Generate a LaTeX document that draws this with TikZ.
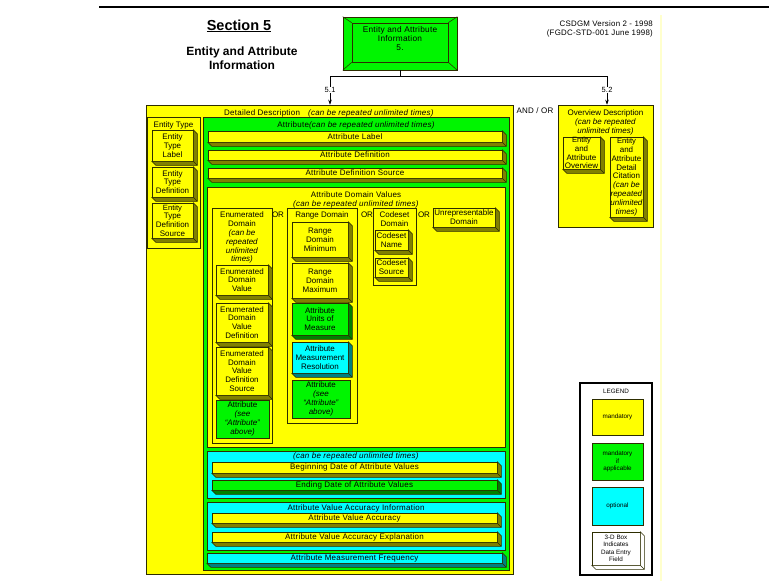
\documentclass[tikz,border=0pt]{standalone}
\usepackage{fontspec}
\setmainfont{Liberation Sans}
\newfontfamily\spacedfont[LetterSpace=3]{Liberation Sans}
\usetikzlibrary{arrows.meta}

\definecolor{ylw}{RGB}{255,255,0}
\definecolor{grn}{RGB}{0,245,0}
\definecolor{cyn}{RGB}{0,255,255}
\definecolor{ylwdk}{RGB}{128,128,0}
\definecolor{grndk}{RGB}{0,128,0}
\definecolor{cyndk}{RGB}{0,128,128}
\definecolor{edgec}{RGB}{45,45,0}
\definecolor{paleline}{RGB}{255,255,205}

\newcommand\boxfont{\fontsize{8}{8.8}\selectfont}
\newcommand\widefont{\spacedfont\fontsize{8}{8.8}\selectfont}
\newcommand\tightfont{\fontsize{7.6}{8}\selectfont}
\newcommand\smallfont{\fontsize{6.3}{7.4}\selectfont}

% flat box from corner (x1,y1) to (x2,y2): name, style, x1, y1, x2, y2, text
\newcommand\flatbox[7]{%
  \pgfmathsetmacro\bxw{#5-#3}%
  \pgfmathsetmacro\bxh{#6-#4}%
  \pgfmathsetmacro\bxx{(#3+#5)/2}%
  \pgfmathsetmacro\bxy{(#4+#6)/2}%
  \node[boxsty,#2,minimum width=\bxw pt,minimum height=\bxh pt] (#1) at (\bxx,\bxy) {#7};}

% extruded right and bottom faces of a box node: name, side colour
\newcommand\extrude[2]{%
  \filldraw[edgeline,fill=#2] (#1.north east) -- ++(4,4)
    -- ([shift={(4,4)}]#1.south east) -- ([shift={(4,4)}]#1.south west)
    -- (#1.south west) -- (#1.south east) -- cycle;
  \draw[edgeline] (#1.south east) -- ++(4,4);}

% 3-D data entry box: name, fill, side colour, x1, y1, x2, y2, text
\newcommand\solidbox[8]{%
  \flatbox{#1}{fill=#2}{#4}{#5}{#6}{#7}{#8}%
  \extrude{#1}{#3}}

\begin{document}
\begin{tikzpicture}[x=1pt,y=-1pt,
  boxsty/.style={draw=edgec,line width=0.55pt,inner sep=0pt,align=center,font=\boxfont},
  edgeline/.style={draw=edgec,line width=0.55pt},
  heading/.style={inner sep=0pt,align=center,font=\boxfont},
  wideheading/.style={inner sep=0pt,align=center,font=\widefont},
  tip/.style={-{Stealth[length=5pt,width=3.5pt]},line width=0.6pt},
  wire/.style={line width=0.6pt}]

\useasboundingbox (0,0) rectangle (769,581);
\fill[white] (0,0) rectangle (769,581);

% page rule and margin
\coordinate (ruleL) at (99,6.5);
\coordinate (ruleR) at (769,6.5);
\draw[line width=2pt] (ruleL) -- (ruleR);
\coordinate (marginT) at (661,15);
\coordinate (marginB) at (661,581);
\draw[paleline,line width=2pt] (marginT) -- (marginB);

% titles
\node[inner sep=0pt,anchor=base,font=\fontsize{14.5}{16}\selectfont\bfseries] (sec) at (239,30) {\underline{Section 5}};
\node[inner sep=0pt,anchor=north,align=center,font=\fontsize{12}{14}\selectfont\bfseries] (sectitle) at (242,47) {Entity and Attribute\\Information};
\node[inner sep=0pt,anchor=north east,align=right,font=\spacedfont\fontsize{7.9}{9}\selectfont] (version) at (653,21) {CSDGM Version 2 - 1998\\(FGDC-STD-001 June 1998)};

% section box with bevelled frame
\flatbox{top}{fill=grn}{343}{17}{457}{70}{}
\flatbox{topin}{fill=grn}{352}{23}{448}{62}{}
\draw[edgeline] (top.north west) -- (topin.north west);
\draw[edgeline] (top.north east) -- (topin.north east);
\draw[edgeline] (top.south west) -- (topin.south west);
\draw[edgeline] (top.south east) -- (topin.south east);
\node[heading,font=\spacedfont\fontsize{8.3}{9}\selectfont] (toptext) at (400,39) {Entity and Attribute\\Information\\5.};

% Detailed Description
\flatbox{dd}{fill=ylw}{146}{105}{513}{574}{}
\node[wideheading,anchor=base] (ddt) at (329,115) {Detailed Description\quad\textit{(can be repeated unlimited times)}};

% Entity Type
\flatbox{et}{fill=ylw}{147}{117}{200}{248}{}
\node[heading,anchor=base] (ett) at (173.5,127) {Entity Type};
\solidbox{etl}{ylw}{ylwdk}{152}{130}{193}{161}{Entity\\Type\\Label}
\solidbox{etd}{ylw}{ylwdk}{152}{167}{193}{197}{Entity\\Type\\Definition}
\solidbox{ets}{ylw}{ylwdk}{152}{203}{193}{238}{\tightfont Entity\\Type\\Definition\\Source}

% Attribute
\flatbox{attr}{fill=grn}{203}{117}{509}{570}{}
\node[wideheading,anchor=base] (attrt) at (356,127) {Attribute\textit{(can be repeated unlimited times)}};
\solidbox{al}{ylw}{ylwdk}{208}{131}{502}{142}{\widefont Attribute Label}
\solidbox{ad}{ylw}{ylwdk}{208}{150}{502}{160}{\widefont Attribute Definition}
\solidbox{ads}{ylw}{ylwdk}{208}{168}{502}{178}{\widefont Attribute Definition Source}

% Attribute Domain Values
\flatbox{adv}{fill=ylw}{207}{187}{505}{447}{}
\node[wideheading,anchor=north] (advt) at (356,191.5) {Attribute Domain Values\\\textit{(can be repeated unlimited times)}};

% Enumerated Domain
\flatbox{en}{fill=ylw}{212}{208}{272}{443}{}
\node[heading,anchor=north] (ent) at (242,212) {Enumerated\\Domain\\\textit{(can be}\\\textit{repeated}\\\textit{unlimited}\\\textit{times)}};
\solidbox{edv}{ylw}{ylwdk}{216}{265}{268}{295}{Enumerated\\Domain\\Value}
\solidbox{edvd}{ylw}{ylwdk}{216}{303}{268}{342}{Enumerated\\Domain\\Value\\Definition}
\solidbox{edvs}{ylw}{ylwdk}{216}{347}{268}{395}{Enumerated\\Domain\\Value\\Definition\\Source}
\flatbox{ena}{fill=grn}{216}{400}{269}{438}{Attribute\\\textit{(see}\\\textit{``Attribute''}\\\textit{above)}}

\node[heading,anchor=base] (or1) at (278,217) {OR};

% Range Domain
\flatbox{rd}{fill=ylw}{287}{208}{357}{423}{}
\node[heading,anchor=base] (rdt) at (322,217.5) {Range Domain};
\solidbox{rmin}{ylw}{ylwdk}{292}{222}{348}{257}{Range\\Domain\\Minimum}
\solidbox{rmax}{ylw}{ylwdk}{292}{263}{348}{298}{Range\\Domain\\Maximum}
\solidbox{rum}{grn}{grndk}{292}{303}{348}{335}{Attribute\\Units of\\Measure}
\solidbox{rmr}{cyn}{cyndk}{292}{342}{348}{373}{Attribute\\Measurement\\Resolution}
\flatbox{rat}{fill=grn}{292}{380}{350}{418}{Attribute\\\textit{(see}\\\textit{``Attribute''}\\\textit{above)}}

\node[heading,anchor=base] (or2) at (367,217) {OR};

% Codeset Domain
\flatbox{cd}{fill=ylw}{373}{208}{416}{285}{}
\node[heading,anchor=north] (cdt) at (394.5,211.5) {Codeset\\Domain};
\solidbox{cn}{ylw}{ylwdk}{375}{230}{408}{250}{Codeset\\Name}
\solidbox{cs}{ylw}{ylwdk}{375}{258}{408}{277}{Codeset\\Source}

\node[heading,anchor=base] (or3) at (424,217) {OR};

\solidbox{ud}{ylw}{ylwdk}{433}{208}{495}{227}{Unrepresentable\\Domain}

% date range group
\flatbox{c1}{fill=cyn}{207}{451}{505}{498}{}
\node[wideheading,anchor=base] (c1t) at (356,458) {\textit{(can be repeated unlimited times)}};
\solidbox{bd}{ylw}{ylwdk}{212}{462}{497}{473}{\widefont Beginning Date of Attribute Values}
\solidbox{edd}{grn}{grndk}{212}{480}{497}{490}{\widefont Ending Date of Attribute Values}

% accuracy group
\flatbox{c2}{fill=cyn}{207}{502}{505}{550}{}
\node[wideheading,anchor=base] (c2t) at (356,510) {Attribute Value Accuracy Information};
\solidbox{ava}{ylw}{ylwdk}{212}{513}{497}{523}{\widefont Attribute Value Accuracy}
\solidbox{avae}{ylw}{ylwdk}{212}{532}{497}{542}{\widefont Attribute Value Accuracy Explanation}

\solidbox{amf}{cyn}{cyndk}{207}{553}{502}{563}{\widefont Attribute Measurement Frequency}

% Overview Description
\node[wideheading,anchor=base] (andor) at (535,113) {AND / OR};
\flatbox{ov}{fill=ylw}{558}{105}{653}{227}{}
\node[heading,anchor=north] (ovt) at (605.5,110) {Overview Description\\\textit{(can be repeated}\\\textit{unlimited times)}};
\solidbox{eao}{ylw}{ylwdk}{563}{137}{600}{169}{\tightfont Entity\\and\\Attribute\\Overview}
\solidbox{eadc}{ylw}{ylwdk}{610}{137}{643}{217}{\tightfont Entity\\and\\Attribute\\Detail\\Citation\\\textit{(can be}\\\textit{repeated}\\\textit{unlimited}\\\textit{times)}}

% connectors from the section box
\coordinate (split) at (400,76);
\coordinate (left) at (330,76);
\coordinate (right) at (607,76);
\draw[wire] (top.south) -- (split);
\draw[wire] (left) -- (right);
\node[heading,font=\spacedfont\fontsize{7.5}{9}\selectfont] (n51) at (330,90) {5.1};
\node[heading,font=\spacedfont\fontsize{7.5}{9}\selectfont] (n52) at (607,90) {5.2};
\draw[wire] (left) -- (n51.north);
\draw[wire] (right) -- (n52.north);
\draw[tip] (n51.south) -- (dd.north -| n51.south);
\draw[tip] (n52.south) -- (ov.north -| n52.south);

% legend
\flatbox{lg}{fill=white,line width=1.4pt,draw=black}{580}{383}{652}{575}{}
\node[heading,anchor=base,font=\smallfont] (lgt) at (616,393) {LEGEND};
\flatbox{lgy}{fill=ylw,font=\smallfont}{592}{399}{643}{435}{mandatory}
\flatbox{lgg}{fill=grn,font=\smallfont}{592}{443}{643}{480}{mandatory\\if\\applicable}
\flatbox{lgc}{fill=cyn,font=\smallfont}{592}{487}{643}{525}{optional}
\flatbox{lg3}{fill=white,font=\smallfont}{592}{532}{640}{565}{3-D Box\\Indicates\\Data Entry\\Field}
\extrude{lg3}{white}
\end{tikzpicture}
\end{document}
